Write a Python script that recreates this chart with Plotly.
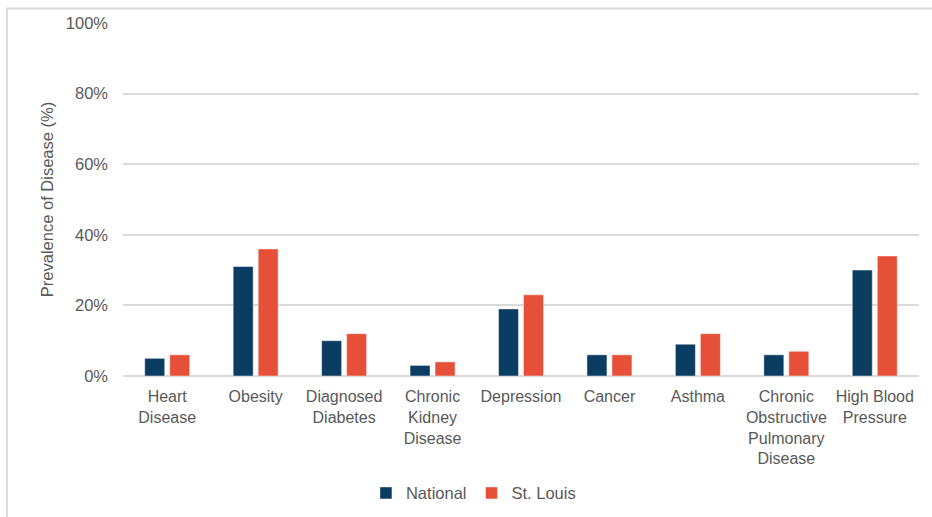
import plotly.graph_objects as go

# Disease categories (line breaks as shown under the axis)
categories = [
    "Heart<br>Disease",
    "Obesity",
    "Diagnosed<br>Diabetes",
    "Chronic<br>Kidney<br>Disease",
    "Depression",
    "Cancer",
    "Asthma",
    "Chronic<br>Obstructive<br>Pulmonary<br>Disease",
    "High Blood<br>Pressure",
]

# Prevalence values in percent
national = [5, 31, 10, 3, 19, 6, 9, 6, 30]
st_louis = [6, 36, 12, 4, 23, 6, 12, 7, 34]

# Y axis ticks
y_ticks = [0, 20, 40, 60, 80, 100]
y_tick_labels = ["0%", "20%", "40%", "60%", "80%", "100%"]

NAVY = "#0b3c61"
RED = "#e65038"
TEXT = "#595959"
GRID = "#d9d9d9"
FONT = "Liberation Sans, Arial, sans-serif"

fig = go.Figure()
fig.add_trace(go.Bar(
    x=categories, y=national, name="National",
    marker=dict(color=NAVY, line=dict(color="rgba(255,255,255,0.45)", width=1)),
))
fig.add_trace(go.Bar(
    x=categories, y=st_louis, name="St. Louis",
    marker=dict(color=RED, line=dict(color="rgba(255,255,255,0.45)", width=1)),
))

fig.update_layout(
    width=932, height=517,
    margin=dict(l=123, r=13, t=23, b=141),
    paper_bgcolor="white",
    plot_bgcolor="white",
    font=dict(family=FONT, size=16.5, color=TEXT),
    barmode="group",
    bargap=0.435,
    bargroupgap=0.2,
    showlegend=True,
    legend=dict(
        orientation="h",
        xref="container", yref="container",
        x=0.508, y=0.046, xanchor="center", yanchor="middle",
        font=dict(family=FONT, size=16.5, color=TEXT),
        itemwidth=30,
        traceorder="normal",
    ),
    shapes=[dict(
        type="rect", xref="paper", yref="paper",
        x0=-0.1457, x1=1.02, y0=-0.45, y1=1.041,
        line=dict(color=GRID, width=2), fillcolor="rgba(0,0,0,0)",
        layer="below",
    )],
)

fig.update_xaxes(
    automargin=False,
    showgrid=False, showline=False, zeroline=False,
    ticks="", ticklabelstandoff=9,
    tickfont=dict(family=FONT, size=16, color=TEXT),
    tickangle=0,
)
fig.update_yaxes(
    automargin=False,
    range=[0, 100],
    tickvals=y_ticks, ticktext=y_tick_labels,
    showgrid=True, gridcolor=GRID, gridwidth=1.5,
    zeroline=True, zerolinecolor=GRID, zerolinewidth=1.5,
    showline=False, ticks="", ticklabelstandoff=14,
    tickfont=dict(family=FONT, size=16.5, color=TEXT),
    title=dict(text="Prevalence of Disease (%)", standoff=8,
               font=dict(family=FONT, size=16.5, color=TEXT)),
)

fig.write_html("out.html")
